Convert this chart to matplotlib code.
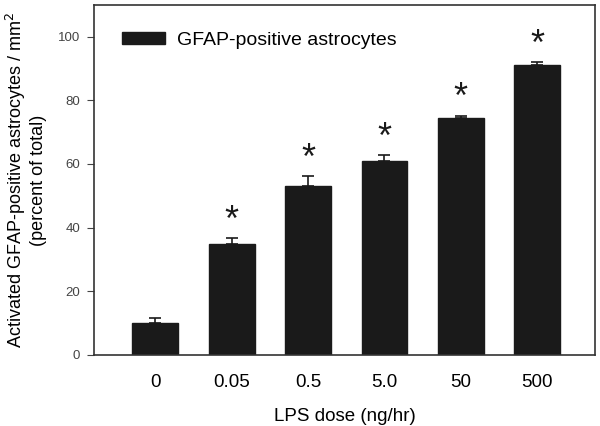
import matplotlib
matplotlib.use("Agg")
import matplotlib.pyplot as plt
import numpy as np

categories = ["0", "0.05", "0.5", "5.0", "50", "500"]
values = [10.1, 35, 53, 61, 74.4, 91.2]
errors = [1.6, 1.6, 3.2, 1.8, 0.8, 0.8]
significant = [False, True, True, True, True, True]

plt.rcParams['font.family'] = ['Liberation Sans', 'DejaVu Sans']

fig = plt.figure(figsize=(6, 4.26), dpi=100)
ax = fig.add_axes([0.157, 0.1667, 0.835, 0.822])

x = np.arange(len(categories))
ax.bar(x, values, width=0.60, color='#1a1a1a', edgecolor='#1a1a1a',
       label='GFAP-positive astrocytes', zorder=2)
ax.errorbar(x, values, yerr=[np.zeros(len(errors)), errors], fmt='none',
            ecolor='#1a1a1a', elinewidth=1.2, capsize=4, capthick=1.2, zorder=1)
for xi, v, e, s in zip(x, values, errors, significant):
    if s:
        ax.text(xi, v + e + 6.5, '*', ha='center', va='center_baseline', fontsize=26,
                color='#1a1a1a')

ax.set_xlim(-0.80, 5.76)
ax.set_ylim(0, 110)
ax.set_yticks([0, 20, 40, 60, 80, 100])
ax.set_xticks(x)
ax.set_xticklabels(categories, fontsize=13.5)
ax.tick_params(axis='x', length=0, pad=14)
ax.tick_params(axis='y', direction='out', length=5, labelsize=9.5, labelcolor='#444444',
               color='#444444', pad=5)
for sp in ax.spines.values():
    sp.set_color('#333333')
    sp.set_linewidth(1.2)

ax.set_xlabel('LPS dose (ng/hr)', fontsize=13.5, labelpad=12)
ax.set_ylabel('Activated GFAP-positive astrocytes / mm$^2$\n(percent of total)', fontsize=13,
              linespacing=1.15, labelpad=8)

ax.legend(loc='center left', bbox_to_anchor=(0.056, 0.899), frameon=False, fontsize=14,
          handlelength=2.2, handleheight=0.57, handletextpad=0.6, borderpad=0,
          borderaxespad=0)

fig.savefig('out.png', dpi=100)
